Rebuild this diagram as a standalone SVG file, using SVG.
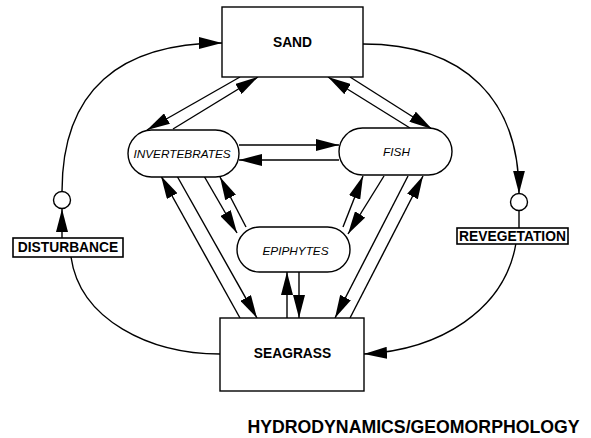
<svg xmlns="http://www.w3.org/2000/svg" width="591" height="438" viewBox="0 0 591 438">
<style>
.box{fill:#fff;stroke:#000;stroke-width:1.4}
.lbl{fill:#fff;stroke:#000;stroke-width:1.6}
.b{font-family:"Liberation Sans",Arial,sans-serif;font-weight:bold;font-size:13.8px;text-anchor:middle;fill:#000}
.i{font-family:"Liberation Sans",Arial,sans-serif;font-style:italic;font-size:11.8px;text-anchor:middle;fill:#000}
.c line,.c path{fill:none;stroke:#000;stroke-width:1.4}
.c .a{marker-end:url(#ah)}
</style>
<defs>
<marker id="ah" markerWidth="23" markerHeight="12" refX="23" refY="6" orient="auto" markerUnits="userSpaceOnUse">
<path d="M0,0 L23,6 L0,12 z" fill="#000"/>
</marker>
</defs>
<rect width="591" height="438" fill="#fff"/>
<g class="c" id="connectors">
<path class="a" d="M62,191.5 C62,90 120,43 222,43"/>
<path class="a" d="M363,44 C465,44 519,100 519,193.5"/>
<line class="a" x1="62" y1="238" x2="62" y2="209"/>
<line x1="519" y1="210.5" x2="519" y2="228"/>
<path d="M71,257 C80,320 150,354 220,354"/>
<path class="a" d="M516,243 C505,310 440,350 364,354"/>
<line class="a" x1="240" y1="77" x2="147" y2="130"/>
<line class="a" x1="173" y1="129" x2="258" y2="77"/>
<line class="a" x1="410" y1="128" x2="328" y2="77"/>
<line class="a" x1="350" y1="77" x2="432" y2="129"/>
<line class="a" x1="239" y1="145" x2="339" y2="145"/>
<line class="a" x1="339" y1="160" x2="239" y2="160"/>
<line class="a" x1="240" y1="318" x2="161" y2="176"/>
<line class="a" x1="177" y1="176" x2="257" y2="318"/>
<line class="a" x1="204" y1="176" x2="237" y2="233"/>
<line class="a" x1="246" y1="227" x2="220" y2="177"/>
<line class="a" x1="343" y1="227" x2="363" y2="176"/>
<line class="a" x1="384" y1="176" x2="348" y2="234"/>
<line class="a" x1="408" y1="176" x2="335" y2="318"/>
<line class="a" x1="350" y1="318" x2="423" y2="176"/>
<line class="a" x1="287" y1="318" x2="287" y2="272"/>
<line class="a" x1="299" y1="272" x2="299" y2="318"/>
</g>
<g id="sand"><rect class="box" x="222" y="7" width="141" height="70"/><text class="b" x="292.5" y="47">SAND</text></g>
<g id="seagrass"><rect class="box" x="220" y="318" width="144" height="73"/><text class="b" x="292.5" y="358">SEAGRASS</text></g>
<g id="invertebrates"><rect class="box" x="128" y="130" width="111" height="47" rx="23.5"/><text class="i" x="182" y="158">INVERTEBRATES</text></g>
<g id="fish"><rect class="box" x="339" y="128" width="113" height="47" rx="23.5"/><text class="i" x="396.5" y="156">FISH</text></g>
<g id="epiphytes"><rect class="box" x="237" y="227" width="113" height="45" rx="22.5"/><text class="i" x="295.5" y="255">EPIPHYTES</text></g>
<g id="disturbance"><circle class="box" cx="62" cy="200" r="8.5"/><rect class="lbl" x="13" y="238" width="110" height="19"/><text class="b" x="68" y="252">DISTURBANCE</text></g>
<g id="revegetation"><circle class="box" cx="519" cy="202" r="8.5"/><rect class="lbl" x="457" y="228" width="111" height="16"/><text class="b" x="512.5" y="241">REVEGETATION</text></g>
<text class="b" x="413.5" y="433" style="font-size:17.7px">HYDRODYNAMICS/GEOMORPHOLOGY</text>
</svg>
